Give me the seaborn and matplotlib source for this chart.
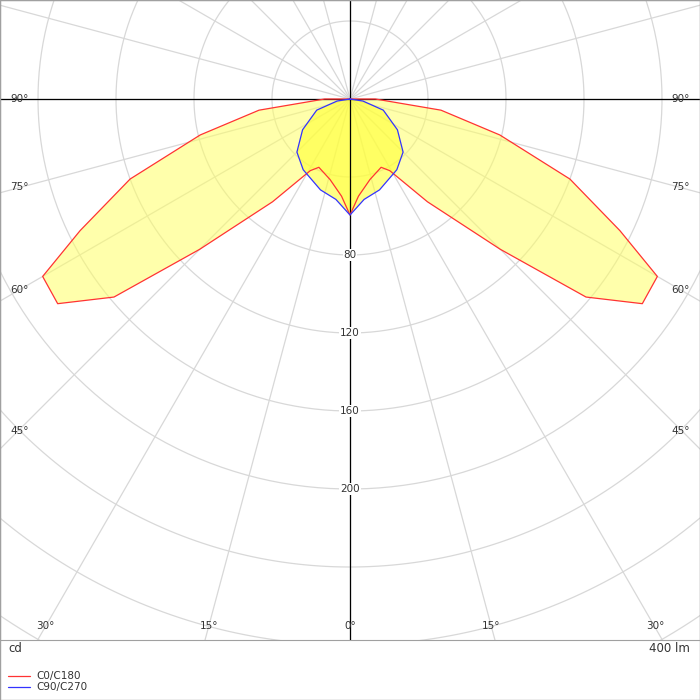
import numpy as np
import matplotlib
matplotlib.use('Agg')
import matplotlib.pyplot as plt
import seaborn as sns

sns.set_style('white')
plt.rcParams['font.family'] = ['DejaVu Sans']

# C0/C180 half-curve (angle deg from nadir, intensity cd), mirrored for the other side
c0_angles = [0, 5, 14, 24.5, 29, 37, 45, 50, 55, 60, 64, 70, 76.5, 83, 90, 95]
c0_cd = [59.5, 50, 42.5, 38.5, 42, 66, 109, 158, 183, 182, 154, 120, 79, 47, 13, 0]
# C90/C270 half-curve
c90_angles = [0, 8, 18, 33.5, 45, 57, 71.5, 81, 90]
c90_cd = [59.5, 52, 49, 43.5, 38.5, 29, 18, 6.7, 0]

ring_values = [80, 120, 160, 200]
side_labels = ['90°', '75°', '60°', '45°']
bottom_labels = ['30°', '15°', '0°', '15°', '30°']

scale = 1.95  # px per cd


def full_curve(angles, vals):
    a = np.array(angles, dtype=float)
    v = np.array(vals, dtype=float)
    ang = np.concatenate([-a[::-1], a[1:]])
    r = np.concatenate([v[::-1], v[1:]])
    t = np.radians(ang)
    return r * np.sin(t), -r * np.cos(t)


fig = plt.figure(figsize=(7, 7), dpi=100)
ax = fig.add_axes([0, 60 / 700, 1, 640 / 700])
ax.set_xlim(-350 / scale, 350 / scale)
ax.set_ylim(-541 / scale, 99 / scale)
ax.set_aspect('equal')
ax.set_xticks([])
ax.set_yticks([])
for s in ax.spines.values():
    s.set_color('#a0a0a0')

# grid
tt = np.linspace(0, 2 * np.pi, 400)
for rv in range(40, 400, 40):
    ax.plot(rv * np.cos(tt), rv * np.sin(tt), color='#d8d8d8', lw=0.9, zorder=1)
for a in range(0, 360, 15):
    t = np.radians(a)
    ax.plot([0, 400 * np.sin(t)], [0, -400 * np.cos(t)], color='#d8d8d8', lw=0.9, zorder=1)

# curves
x0, y0 = full_curve(c0_angles, c0_cd)
x9, y9 = full_curve(c90_angles, c90_cd)
ax.fill(x0, y0, color='#ffff66', alpha=0.55, lw=0, zorder=2)
ax.fill(x9, y9, color='#ffff33', alpha=0.6, lw=0, zorder=2)
sns.lineplot(x=x0, y=y0, sort=False, estimator=None, color='#ff3333', lw=0.9, ax=ax, zorder=4)
sns.lineplot(x=x9, y=y9, sort=False, estimator=None, color='#3333ff', lw=0.9, ax=ax, zorder=4)

ax.axhline(0, color='black', lw=0.9, zorder=3)
ax.axvline(0, color='black', lw=0.9, zorder=3)

for rv in ring_values:
    ax.text(0, -rv, str(rv), ha='center', va='center', fontsize=7.5, color='#333333',
            bbox=dict(facecolor='white', edgecolor='none', pad=0.5), zorder=5)

side_y = [99, 187, 290, 431]
for lab, py in zip(side_labels, side_y):
    yy = (99 - py) / scale
    ax.text(-340 / scale, yy, lab, ha='left', va='center', fontsize=7.5, color='#333333', zorder=5)
    ax.text(340 / scale, yy, lab, ha='right', va='center', fontsize=7.5, color='#333333', zorder=5)
bottom_x = [45, 209, 350, 491, 655]
for lab, px in zip(bottom_labels, bottom_x):
    ax.text((px - 350) / scale, -527 / scale, lab, ha='center', va='center', fontsize=7.5,
            color='#333333', zorder=5)

fig.text(8 / 700, 1 - 649 / 700, 'cd', ha='left', va='center', fontsize=8.5, color='#333333')
fig.text(690 / 700, 1 - 649 / 700, '400 lm', ha='right', va='center', fontsize=8.5, color='#333333')
for i, (lab, col) in enumerate([('C0/C180', '#ff3333'), ('C90/C270', '#3333ff')]):
    yy = 1 - (676 + 11 * i) / 700
    fig.add_artist(plt.Line2D([8 / 700, 30 / 700], [yy, yy], color=col, lw=0.9))
    fig.text(36 / 700, yy, lab, ha='left', va='center', fontsize=7.5, color='#333333')
fig.add_artist(plt.Rectangle((0, 0), 1, 1, fill=False, edgecolor='#a0a0a0', lw=1,
                             transform=fig.transFigure))

fig.savefig('out.png', dpi=100)
